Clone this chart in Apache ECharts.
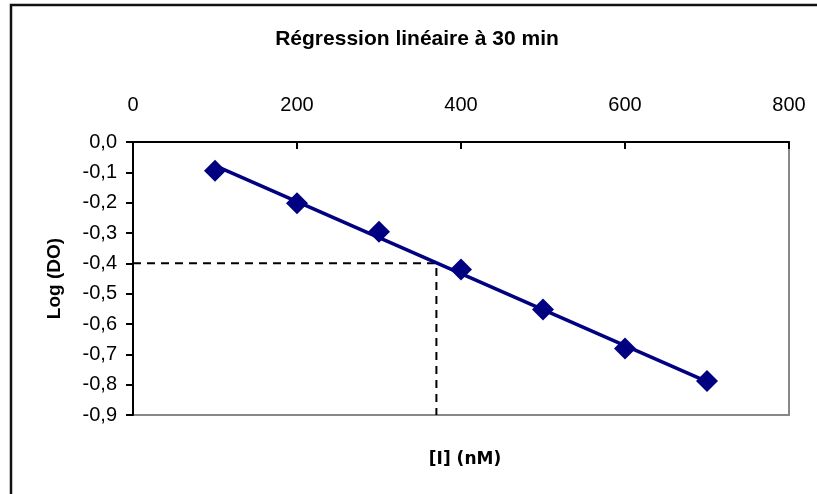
<!DOCTYPE html>
<html>
<head>
<meta charset="utf-8">
<title>Régression linéaire à 30 min</title>
<script src="https://cdn.jsdelivr.net/npm/echarts@6/dist/echarts.min.js"></script>
<style>
  html, body { margin: 0; padding: 0; background: #fff; }
  #chart { width: 817px; height: 494px; }
</style>
</head>
<body>
<div id="chart"></div>
<script>
// valeurs
var concentrations = [100, 200, 300, 400, 500, 600, 700];   // [I] (nM)
var logDO = [-0.095, -0.202, -0.296, -0.42, -0.552, -0.681, -0.788];
var trendX = [100, 700];          // droite de régression, extrémités
var trendY = [-0.078, -0.79];
var readX = 370;                  // lecture : Log(DO) = -0,4
var readY = -0.4;
var xTicks = [0, 200, 400, 600, 800];
var yMin = -0.9, yMax = 0, yStep = 0.1;

var font = 'Liberation Sans, Arial, sans-serif';

var points = concentrations.map(function (c, i) { return [c, logDO[i]]; });
var trend = trendX.map(function (x, i) { return [x, trendY[i]]; });
var readLines = [[0, readY], [readX, readY], [readX, yMin]];

var chart = echarts.init(document.getElementById('chart'));

chart.setOption({
  backgroundColor: '#fff',
  animation: false,
  title: [
    {
      text: 'Régression linéaire à 30 min',
      left: 412, top: 24, textAlign: 'center',
      textStyle: { fontFamily: font, fontSize: 21, fontWeight: 'bold', color: '#000' }
    },
    {
      text: '[I] (nM)',
      left: 460, top: 446, textAlign: 'center',
      textStyle: { fontFamily: 'DejaVu Sans', fontSize: 17, fontWeight: 'bold', color: '#000' }
    }
  ],
  graphic: [
    {
      type: 'rect', silent: true, z: 0,
      shape: { x: 11, y: 5, width: 900, height: 600 },
      style: { fill: 'none', stroke: '#111', lineWidth: 2.5 }
    }
  ],
  grid: {
    left: 133, top: 142, right: 28, bottom: 79,
    show: true, borderColor: '#888', borderWidth: 2, backgroundColor: '#fff'
  },
  xAxis: {
    type: 'value', position: 'top',
    min: xTicks[0], max: xTicks[xTicks.length - 1], interval: 200,
    axisLine: { show: true, lineStyle: { color: '#000', width: 2 } },
    axisTick: { show: true, inside: true, length: 7, lineStyle: { color: '#000', width: 2 } },
    axisLabel: { margin: 27, fontFamily: font, fontSize: 20, color: '#000' },
    splitLine: { show: false }
  },
  yAxis: {
    type: 'value',
    min: yMin, max: yMax, interval: yStep,
    name: 'Log (DO)', nameLocation: 'middle', nameGap: 69,
    nameTextStyle: { fontFamily: font, fontSize: 19, fontWeight: 'bold', color: '#000' },
    axisLine: { show: true, lineStyle: { color: '#000', width: 2 } },
    axisTick: { show: true, length: 7, lineStyle: { color: '#000', width: 2 } },
    axisLabel: {
      margin: 16, fontFamily: font, fontSize: 20, color: '#000',
      formatter: function (v) {
        var s = Math.abs(v) < 1e-9 ? '0.0' : v.toFixed(1);
        return s.replace('.', ',');
      }
    },
    splitLine: { show: false }
  },
  series: [
    {
      name: 'lecture', type: 'line', data: readLines,
      symbol: 'none', silent: true, z: 1,
      lineStyle: { color: '#000', width: 2, type: [8, 6] }
    },
    {
      name: 'régression', type: 'line', data: trend,
      symbol: 'none', silent: true, z: 2,
      lineStyle: { color: '#000080', width: 3.5 }
    },
    {
      name: 'mesures', type: 'scatter', data: points,
      symbol: 'diamond', symbolSize: [22, 22], z: 3,
      itemStyle: { color: '#000080', opacity: 1 }
    }
  ]
});
</script>
</body>
</html>
